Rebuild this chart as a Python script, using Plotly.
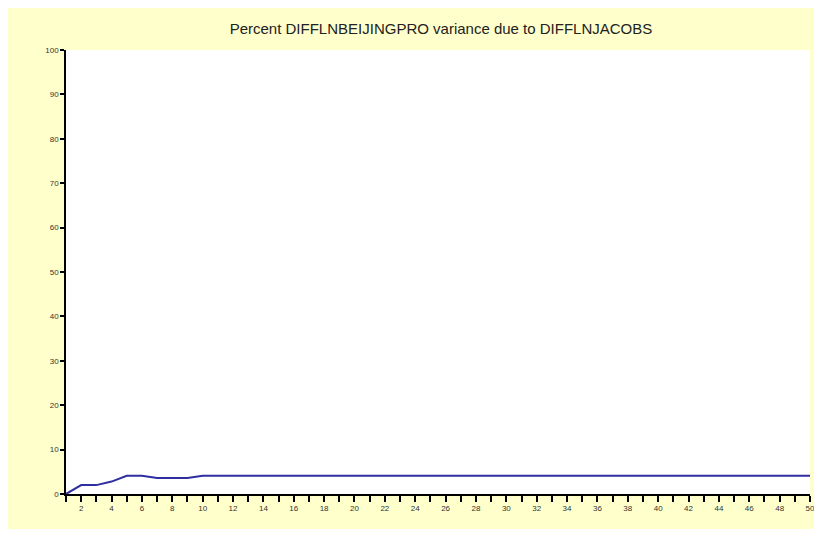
import plotly.graph_objects as go

# Variance decomposition: share of DIFFLNBEIJINGPRO forecast error variance due to DIFFLNJACOBS
periods = list(range(1, 51))
percent = [0.0, 2.0, 2.0, 2.8, 4.1, 4.1, 3.6, 3.6, 3.6, 4.1] + [4.1] * 40

title_text = "Percent DIFFLNBEIJINGPRO variance due to DIFFLNJACOBS"
y_ticks = list(range(0, 101, 10))
x_ticks = periods
x_labels = [str(p) if p % 2 == 0 else "" for p in periods]

fig = go.Figure()
fig.add_trace(go.Scatter(
    x=periods, y=percent, mode="lines",
    line=dict(color="#2E2EA0", width=2),
    hoverinfo="skip",
))

# white frame around the yellow panel, in paper coordinates
W, H = 814, 536
ml, mr, mt, mb = 66, 4, 50, 42
pw, ph = W - ml - mr, H - mt - mb
def px(xp):
    return (xp - ml) / pw
def py(yp):
    return (H - mb - yp) / ph

white = "#FFFFFF"
shapes = [
    dict(type="rect", xref="paper", yref="paper", x0=px(0), x1=px(W), y0=py(8), y1=py(-5),
         fillcolor=white, line=dict(width=0), layer="below"),
    dict(type="rect", xref="paper", yref="paper", x0=px(-5), x1=px(8), y0=py(H + 5), y1=py(-5),
         fillcolor=white, line=dict(width=0), layer="below"),
    dict(type="rect", xref="paper", yref="paper", x0=px(0), x1=px(W), y0=py(H + 5), y1=py(529),
         fillcolor=white, line=dict(width=0), layer="below"),
]

tick_font = dict(family="Liberation Sans, Arial", size=8, color="#333333")

fig.update_layout(
    width=W, height=H,
    margin=dict(l=ml, r=mr, t=mt, b=mb, autoexpand=False),
    paper_bgcolor="#FFFFCC",
    plot_bgcolor="#FFFFFF",
    showlegend=False,
    shapes=shapes,
    title=dict(text=title_text, x=441 / W, xanchor="center",
               y=1 - 29 / H, yanchor="middle",
               font=dict(family="Liberation Sans, Arial", size=15, color="#222222")),
    xaxis=dict(range=[1, 50], tickvals=x_ticks, ticktext=x_labels,
               ticks="outside", ticklen=6, tickwidth=1.5, tickcolor="#000000",
               showline=True, linecolor="#000000", linewidth=1.5,
               showgrid=False, zeroline=False, tickfont=tick_font,
               ticklabeloverflow="allow", automargin=False),
    yaxis=dict(range=[0, 100], tickvals=y_ticks,
               ticks="outside", ticklen=4, tickwidth=1.5, tickcolor="#000000",
               showline=True, linecolor="#000000", linewidth=1.5,
               showgrid=False, zeroline=False, tickfont=tick_font,
               automargin=False),
)

fig.write_html("out.html")
